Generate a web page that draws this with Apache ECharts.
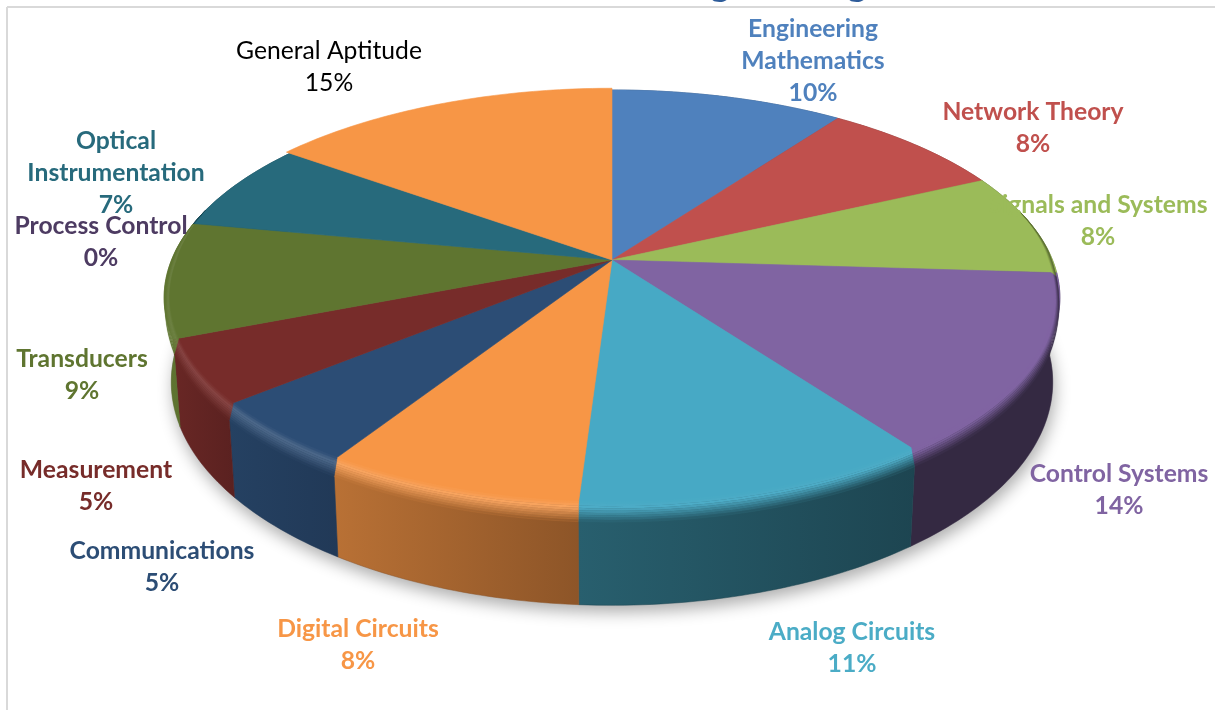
<!DOCTYPE html>
<html>
<head>
<meta charset="utf-8">
<title>Weightage pie</title>
<script src="https://cdn.jsdelivr.net/npm/echarts@6/dist/echarts.min.js"></script>
<style>
  html, body { margin: 0; padding: 0; background: #fff; }
  #main { width: 1215px; height: 710px; }
</style>
</head>
<body>
<div id="main"></div>
<script>
// clockwise from 12 o'clock
var subjects = ['Engineering\nMathematics', 'Network Theory', 'Signals and Systems', 'Control Systems',
  'Analog Circuits', 'Digital Circuits', 'Communications', 'Measurement', 'Transducers',
  'Process Control', 'Optical\nInstrumentation', 'General Aptitude'];
var percents = [10, 8, 8, 14, 11, 8, 5, 5, 9, 0, 7, 15];

var total = percents.reduce(function (a, b) { return a + b; }, 0);
var starts = [];
percents.reduce(function (sum, v, i) { starts[i] = sum; return sum + v; }, 0);
var seriesData = percents.map(function (v, i) { return [v, starts[i]]; });

// look of each slice
var topColors = ['#4F81BD', '#C0504D', '#9BBB59', '#8064A2', '#47A9C5', '#F79646',
  '#2C4D75', '#772C2A', '#5F7530', '#4D3B62', '#276A7C', '#F79646'];
var labelColors = ['#4F81BD', '#C0504D', '#9BBB59', '#8064A2', '#4BACC6', '#F79646',
  '#2C4D75', '#772C2A', '#5F7530', '#4D3B62', '#276A7C', '#000000'];
var wallShade = [[.6, .6], [.6, .6], [.5, .5], [.41, .41], [.56, .41], [.75, .57],
  [.84, .74], [.88, .76], [1, .95], [.6, .6], [.6, .6], [.6, .6]];
var rimGlow = [0, 0, 0, 0, .04, .14, .16, .12, .1, 0, 0, 0];
var sliceScale = [1, 1, 1, 1, 1, 1, 1, 1, 1, 1, 1, 1.012]; // General Aptitude sits a little proud
// centre x, y of first line
var labelAt = [[813, 29], [1033, 112], [1098, 205], [1119, 474], [852, 632], [358, 629],
  [162, 551], [96, 470], [82, 359], [101, 226], [116, 141], [329, 51]];

// projection of the tilted disc
var CX = 612, CY = 260, RX = 440.5, RY = 200.8, PERSP = 0.181, DEPTH = 82, SHRINK = 0.016;
var RIM_DROP = 0.17, RIM_INSET = 0.012;

function project(deg, drop, scale) {
  var a = deg * Math.PI / 180, s = scale || 1;
  var u = s * Math.sin(a), v = -s * Math.cos(a);
  var p = 1 / (1 - PERSP * v);
  return [CX + RX * u * p * (1 - SHRINK * drop), CY + RY * v * p + drop * DEPTH * p];
}
function arc(from, to, drop, scale) {
  var pts = [], n = Math.max(2, Math.ceil(to - from));
  for (var i = 0; i <= n; i++) pts.push(project(from + (to - from) * i / n, drop, scale));
  return pts;
}
function band(from, to, d0, d1) {
  return arc(from, to, d0).concat(arc(from, to, d1).reverse());
}
function clamp01(x) { return Math.max(0, Math.min(1, x)); }
// bevel along the edge, t 0 is where it starts on the top face, t 1 where it meets the wall
function rimArc(from, to, t) {
  var pts = [], n = Math.max(2, Math.ceil(to - from));
  for (var i = 0; i <= n; i++) {
    var deg = from + (to - from) * i / n;
    var v = -Math.cos(deg * Math.PI / 180);
    var dropK = clamp01((v + 0.05) / 0.4), insetK = clamp01((v + 0.25) / 0.25);
    pts.push(project(deg, RIM_DROP * t * dropK, 1 - RIM_INSET * insetK * (1 - t)));
  }
  return pts;
}
function shade(color, k) { return echarts.color.lerp(1 - k, [color, '#000000']); }
function hGrad(a, b) {
  return { type: 'linear', x: 0, y: 0, x2: 1, y2: 0, colorStops: [{ offset: 0, color: a }, { offset: 1, color: b }] };
}
function angles(api) {
  var from = api.value(1) / total * 360;
  return [from, from + api.value(0) / total * 360];
}

function renderWall(params, api) {
  var i = params.dataIndex, r = angles(api);
  if (r[0] === r[1]) return;
  var left = shade(topColors[i], wallShade[i][0]), right = shade(topColors[i], wallShade[i][1]);
  return { type: 'polygon', shape: { points: band(r[0], r[1], 0, 1) },
    style: { fill: hGrad(left, right), stroke: right, lineWidth: 0.5 } };
}

function renderTop(params, api) {
  var i = params.dataIndex, r = angles(api);
  if (r[0] === r[1]) return;
  var pts = [[CX, CY]].concat(arc(r[0], r[1], 0, sliceScale[i]));
  return { type: 'polygon', shape: { points: pts },
    style: { fill: topColors[i], stroke: topColors[i], lineWidth: 0.6 } };
}

function renderRim(params, api) {
  var i = params.dataIndex, r = angles(api), top = topColors[i];
  var from = Math.max(r[0], 75), to = Math.min(r[1], 285);
  if (from >= to) return;
  var left = shade(top, wallShade[i][0]), right = shade(top, wallShade[i][1]);
  var glow = echarts.color.lerp(rimGlow[i], [top, '#ffffff']);
  var children = [], steps = 9;
  for (var s = 0; s < steps; s++) {
    var t = (s + 0.5) / steps;
    var a = t < .3 ? echarts.color.lerp(t / .3, [top, glow]) : echarts.color.lerp((t - .3) / .7, [glow, left]);
    var b = t < .3 ? echarts.color.lerp(t / .3, [top, glow]) : echarts.color.lerp((t - .3) / .7, [glow, right]);
    children.push({ type: 'polygon',
      shape: { points: rimArc(from, to, s / steps).concat(rimArc(from, to, (s + 1) / steps).reverse()) },
      style: { fill: hGrad(a, b), stroke: a, lineWidth: 0.3 } });
  }
  return { type: 'group', children: children };
}

var myChart = echarts.init(document.getElementById('main'), null, { renderer: 'canvas' });

var labels = subjects.map(function (name, i) {
  return {
    type: 'text', z: 20,
    x: labelAt[i][0], y: labelAt[i][1] - 16,
    style: {
      text: name + '\n' + percents[i] + '%',
      fill: labelColors[i],
      align: 'center', verticalAlign: 'top', lineHeight: 32,
      font: (i === 11 ? 'normal' : 'bold') + ' 24.7px Lato'
    }
  };
});

var frame = [
  { type: 'line', z: 0, shape: { x1: 7, y1: 7, x2: 1215, y2: 7 }, style: { stroke: '#d9d9d9', lineWidth: 2 } },
  { type: 'line', z: 0, shape: { x1: 7, y1: 7, x2: 7, y2: 710 }, style: { stroke: '#d9d9d9', lineWidth: 2 } },
  // the page heading is cut off by the top edge, only its descenders are left
  { type: 'text', z: 0, x: 767, y: 3, style: { text: 'Engineering', fill: '#2E5C9A', font: 'bold 38px Lato', align: 'center', verticalAlign: 'bottom' } }
];

myChart.setOption({
  animation: false,
  backgroundColor: '#ffffff',
  graphic: { elements: frame.concat(labels) },
  series: [
    { // soft shadow under the base
      type: 'custom', coordinateSystem: 'none', silent: true, z: 1,
      data: [[100]],
      renderItem: function () {
        return { type: 'polygon', shape: { points: arc(0, 360, 0.98) },
          style: { fill: '#999999', shadowBlur: 16, shadowColor: 'rgba(0,0,0,0.32)', shadowOffsetX: 2, shadowOffsetY: 9 } };
      }
    },
    { type: 'custom', coordinateSystem: 'none', silent: true, z: 2, data: seriesData, renderItem: renderWall },
    { type: 'custom', coordinateSystem: 'none', silent: true, z: 3, data: seriesData, renderItem: renderTop },
    { type: 'custom', coordinateSystem: 'none', silent: true, z: 4, data: seriesData, renderItem: renderRim }
  ]
});
</script>
</body>
</html>
